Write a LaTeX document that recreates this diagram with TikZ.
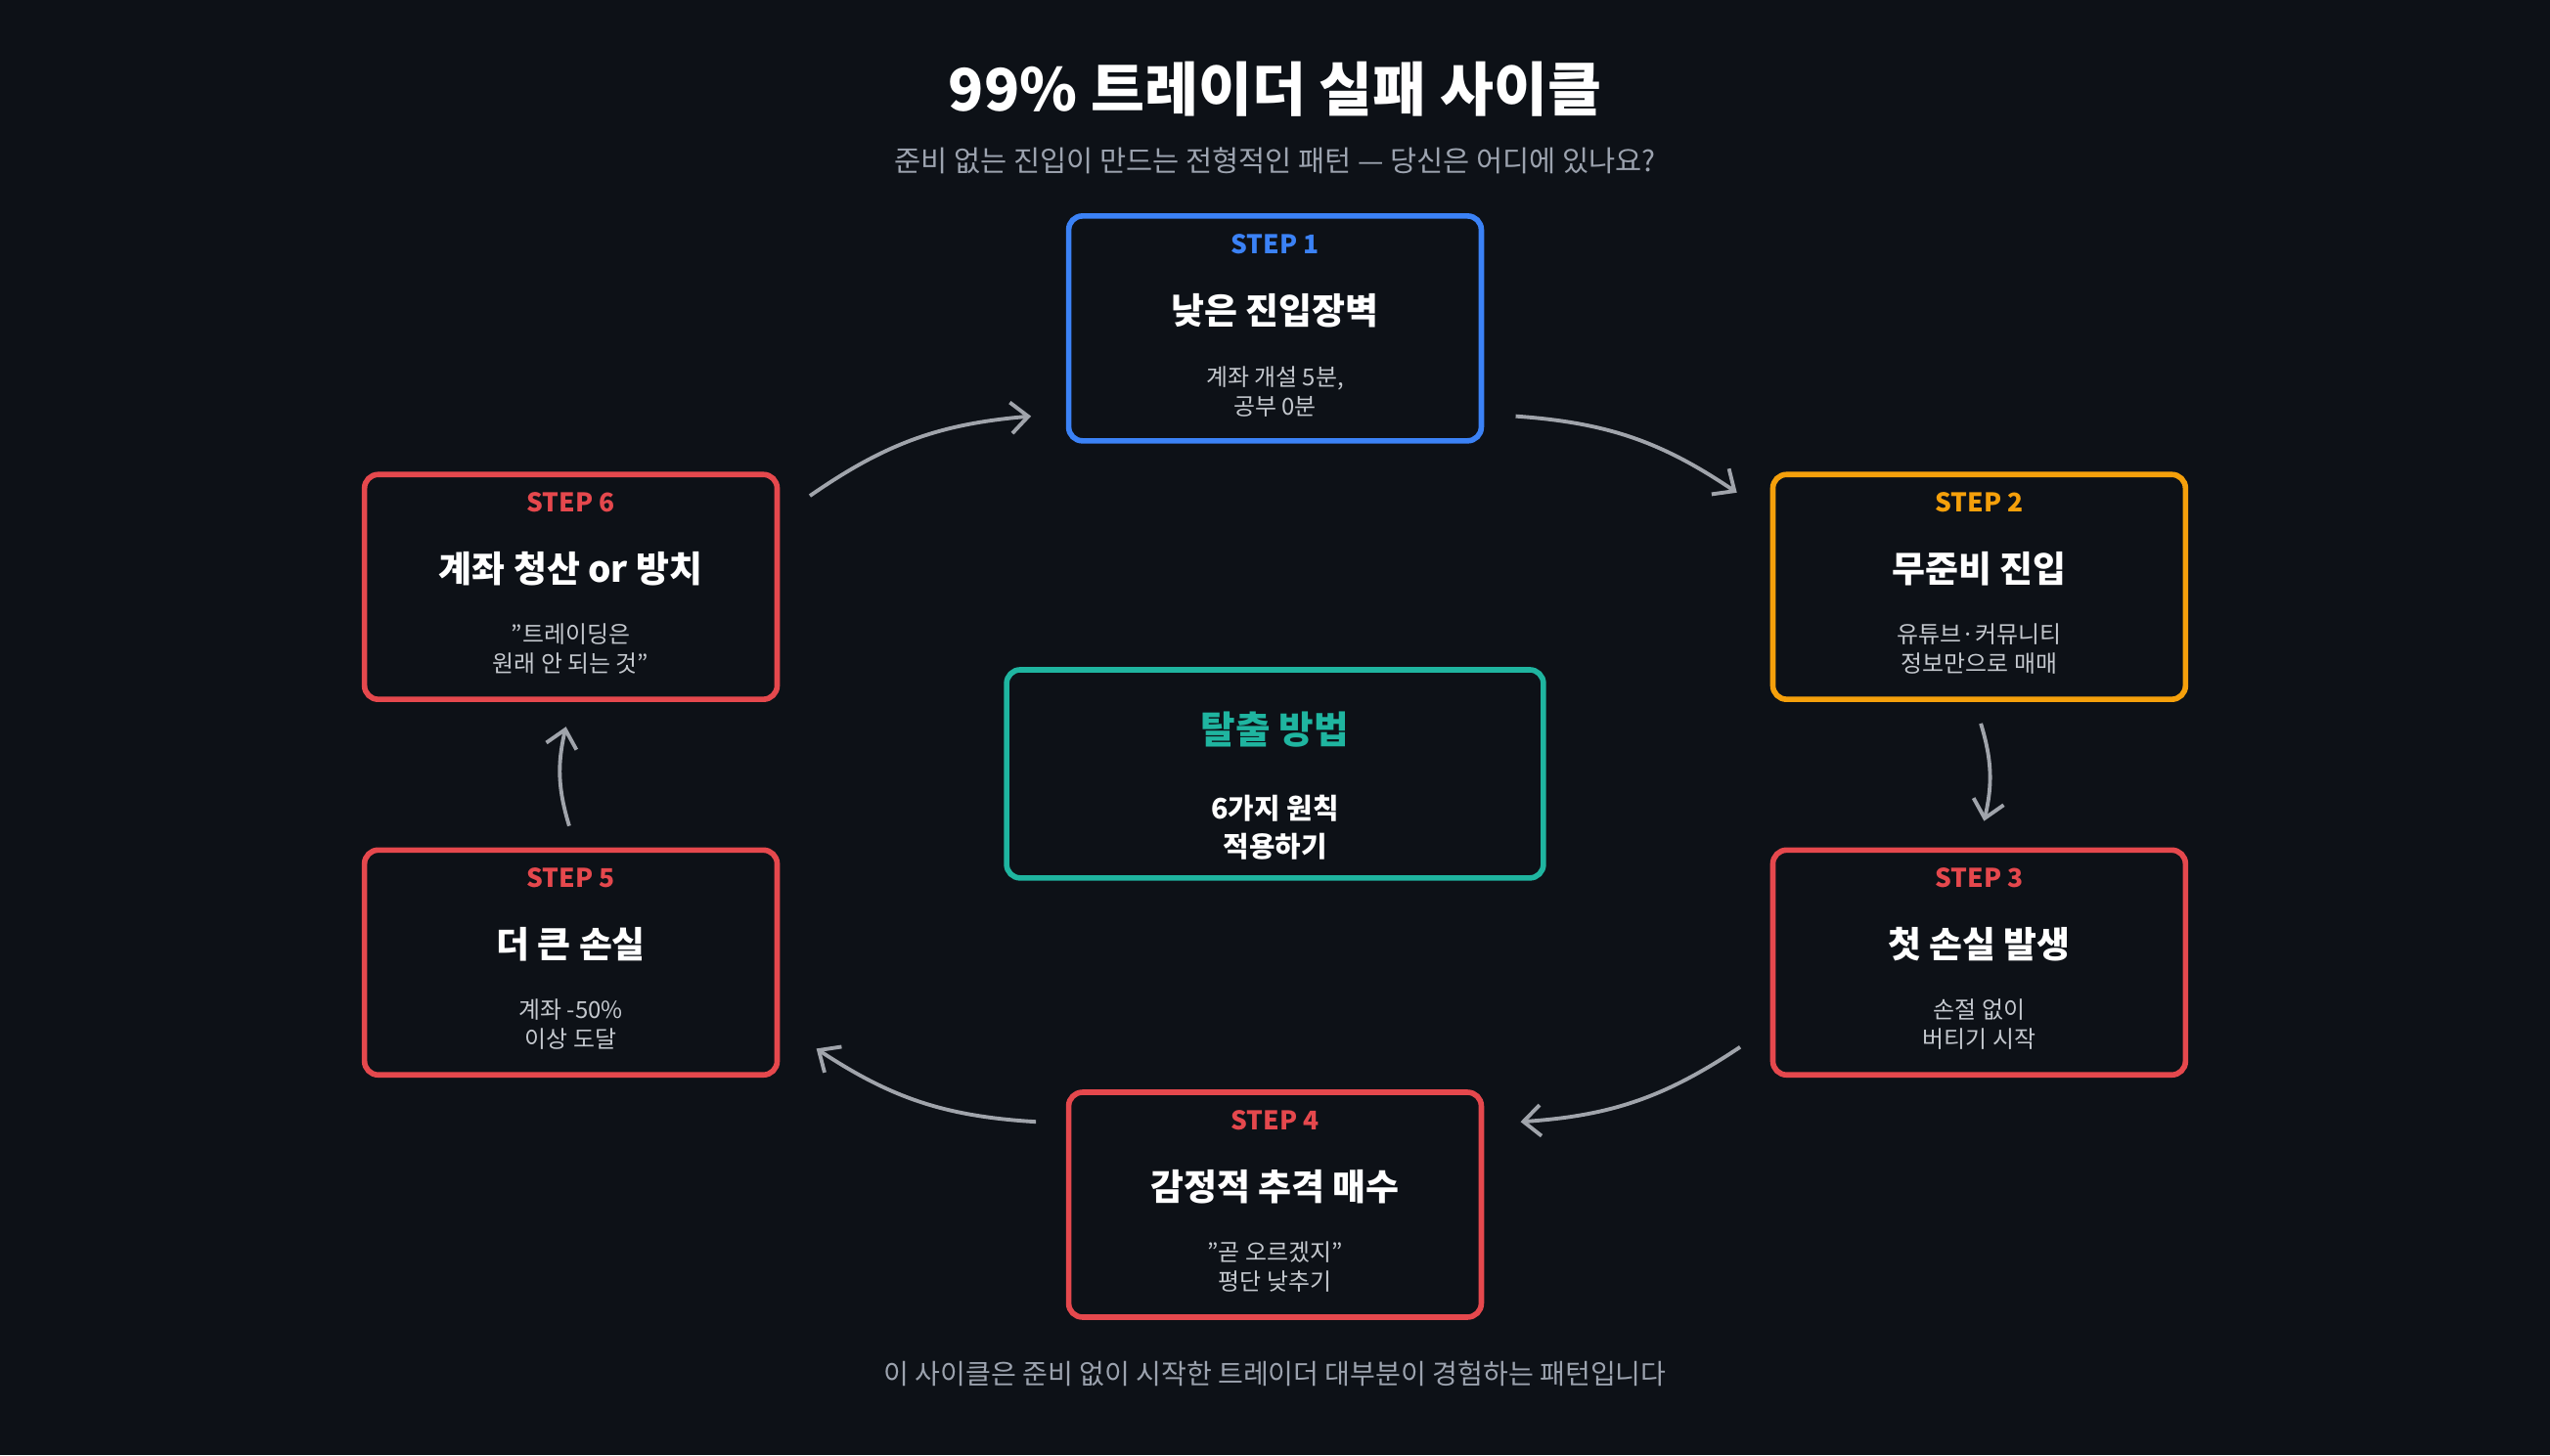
\documentclass[tikz,border=0pt]{standalone}
\usepackage{fontspec}
\setmainfont{Noto Sans CJK KR}
\usetikzlibrary{positioning,arrows.meta}
\definecolor{bgdark}{HTML}{0D1117}
\definecolor{stepblue}{HTML}{3B82F6}
\definecolor{steporange}{HTML}{F5A00B}
\definecolor{stepred}{HTML}{E5484D}
\definecolor{escteal}{HTML}{1FB5A0}
\definecolor{subgray}{HTML}{9CA3AF}
\definecolor{descgray}{HTML}{C4C8CE}
\definecolor{arrowgray}{HTML}{A0A4AB}
\newcommand{\qt}{\symbol{34}}

\begin{document}
\begin{tikzpicture}[x=0.016626cm, y=-0.016626cm,
            box/.style ={rounded corners=4pt, line width=1.6pt, fill=bgdark,
            minimum width=4.22cm, minimum height=2.3cm},
            steplab/.style ={font=\bfseries\fontsize{7.5}{9}\selectfont},
            boxtitle/.style ={text=white, font=\bfseries\fontsize{10.5}{13}\selectfont},
            boxdesc/.style ={text=descgray, align=center, font=\fontsize{6.8}{8.6}\selectfont},
            cyc/.style ={-{Straight Barb[length=5pt,width=9pt]}, arrowgray, line width=1.1pt}]

        \fill[bgdark] (0,0) rectangle (1568,895);

        % titles
        \node[text=white, font=\bfseries\fontsize{17}{20}\selectfont] (title) at (784,55) {99\% 트레이더 실패 사이클};
        \node[text=subgray, font=\fontsize{8.4}{10}\selectfont] (sub) at (784,99) {준비 없는 진입이 만드는 전형적인 패턴 — 당신은 어디에 있나요?};
        \node[text=subgray, font=\fontsize{8}{10}\selectfont] (foot) at (784,845) {이 사이클은 준비 없이 시작한 트레이더 대부분이 경험하는 패턴입니다};

        % boxes
        \node[box, draw=stepblue] (s1) at (784,202) {};
        \node[box, draw=steporange] (s2) at (1217,361) {};
        \node[box, draw=stepred] (s3) at (1217,592) {};
        \node[box, draw=stepred] (s4) at (784,741) {};
        \node[box, draw=stepred] (s5) at (351,592) {};
        \node[box, draw=stepred] (s6) at (351,361) {};
        \node[box, draw=escteal, minimum width=5.49cm, minimum height=2.13cm] (esc) at (784,476) {};

        % box texts
        \node[steplab, text=stepblue] at (784,150) {STEP 1};
        \node[boxtitle] at (784,191) {낮은 진입장벽};
        \node[boxdesc] at (784,241) {계좌 개설 5분,\\공부 0분};

        \node[steplab, text=steporange] at (1217,309) {STEP 2};
        \node[boxtitle] at (1217,350) {무준비 진입};
        \node[boxdesc] at (1217,399) {유튜브·커뮤니티\\정보만으로 매매};

        \node[steplab, text=stepred] at (1217,540) {STEP 3};
        \node[boxtitle] at (1217,581) {첫 손실 발생};
        \node[boxdesc] at (1217,630) {손절 없이\\버티기 시작};

        \node[steplab, text=stepred] at (784,689) {STEP 4};
        \node[boxtitle] at (784,730) {감정적 추격 매수};
        \node[boxdesc] at (784,779) {\qt 곧 오르겠지\qt\\평단 낮추기};

        \node[steplab, text=stepred] at (351,540) {STEP 5};
        \node[boxtitle] at (351,581) {더 큰 손실};
        \node[boxdesc] at (351,630) {계좌 -50\%\\이상 도달};

        \node[steplab, text=stepred] at (351,309) {STEP 6};
        \node[boxtitle] at (351,350) {계좌 청산 or 방치};
        \node[boxdesc] at (351,399) {\qt 트레이딩은\\원래 안 되는 것\qt};

        \node[text=escteal, font=\bfseries\fontsize{11}{13}\selectfont] at (784,449) {탈출 방법};
        \node[text=white, align=center, font=\bfseries\fontsize{8.2}{11}\selectfont] at (784,509) {6가지 원칙\\적용하기};

        % cycle arrows
        \coordinate (a1) at (932,256); \coordinate (b1) at (1068,303);
        \coordinate (a2) at (1218,445); \coordinate (b2) at (1220,505);
        \coordinate (a3) at (1070,644); \coordinate (b3) at (935,690);
        \coordinate (a4) at (637,690); \coordinate (b4) at (502,645);
        \coordinate (a5) at (350,508); \coordinate (b5) at (348,447);
        \coordinate (a6) at (498,305); \coordinate (b6) at (634,256);
        \draw[cyc] (a1) to[bend left=15] (b1);
        \draw[cyc] (a2) to[bend left=15] (b2);
        \draw[cyc] (a3) to[bend left=15] (b3);
        \draw[cyc] (a4) to[bend left=15] (b4);
        \draw[cyc] (a5) to[bend left=15] (b5);
        \draw[cyc] (a6) to[bend left=15] (b6);
    \end{tikzpicture}
\end{document}
